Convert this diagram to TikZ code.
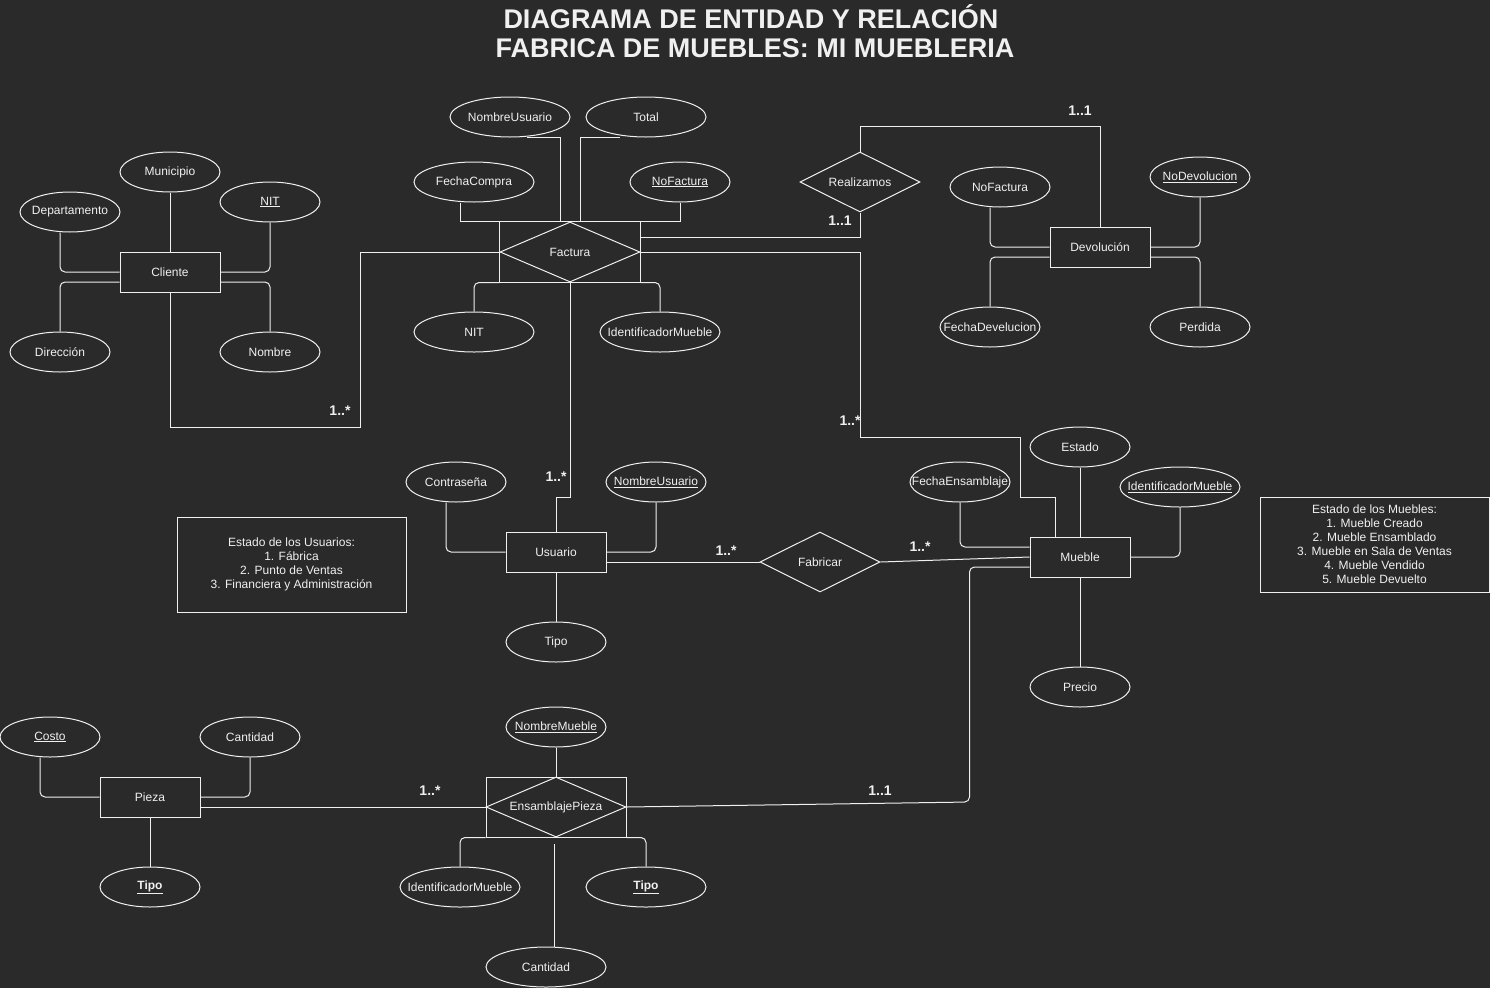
\documentclass[tikz,border=0pt]{standalone}
\usepackage{fontspec}
\setmainfont{Liberation Sans}
\usetikzlibrary{shapes.geometric}
\definecolor{bg}{HTML}{2A2A2A}
\definecolor{ink}{HTML}{F0F0F0}
\begin{document}
\begin{tikzpicture}[x=1pt,y=-1pt, color=ink, line width=1pt,
  every node/.style={text=ink, font=\fontsize{12}{14}\selectfont},
  txt/.style={inner sep=0pt, font=\fontsize{12}{14}\selectfont},
  attr/.style={ellipse, draw, minimum width=100pt, minimum height=40pt, inner sep=0pt,
    label={[txt]center:#1}},
  wattr/.style={attr=#1, minimum width=120pt},
  ent/.style={rectangle, draw, minimum width=100pt, minimum height=40pt, inner sep=0pt},
  rel/.style={diamond, draw, minimum width=120pt, minimum height=60pt, inner sep=0pt, shape aspect=2},
  wrel/.style={rel, minimum width=140pt},
  abox/.style={rectangle, minimum width=140pt, minimum height=60pt, inner sep=0pt},
  card/.style={font=\fontsize{14}{16}\selectfont\bfseries},
  note/.style={rectangle, draw, minimum width=229pt, minimum height=95pt, align=center, inner sep=0pt},
  soft/.style={rounded corners=5pt},
  title/.style={font=\fontsize{27}{31}\selectfont\bfseries}
]
% canvas
\fill[bg] (0,0) rectangle (1490,988);
\path[use as bounding box] (0,0) rectangle (1490,988);

% heading
\node[title] (t1) at (751,17) {DIAGRAMA DE ENTIDAD Y RELACIÓN};
\node[title] (t2) at (755,48) {FABRICA DE MUEBLES: MI MUEBLERIA};

% ---------- Cliente ----------
\node[ent] (cliente) at (170,272) {Cliente};
\node[attr=Municipio] (muni) at (170,172) {};
\node[attr=Departamento] (depto) at (70,212) {};
\node[attr=\underline{NIT}] (nitc) at (270,202) {};
\node[attr=Dirección] (dir) at (60,352) {};
\node[attr=Nombre] (nombre) at (270,352) {};
\draw (muni.south) -- (cliente.north);
\draw[soft] ([xshift=-10pt]depto.south) |- (cliente.west);
\draw[soft] (nitc.south) |- (cliente.east);
\draw[soft] (dir.north) |- ([yshift=-10pt]cliente.west);
\draw[soft] (nombre.north) |- ([yshift=-10pt]cliente.east);

% ---------- Factura ----------
\node[abox] (factbox) at (570,252) {};
\draw (factbox.north west) -- (factbox.south west);
\draw (factbox.north east) -- (factbox.south east);
\node[wrel] (factura) at (570,252) {Factura};
\node[wattr=NombreUsuario] (nuf) at (510,117) {};
\node[wattr=Total] (total) at (646,117) {};
\node[wattr=FechaCompra] (fc) at (474,182) {};
\node[attr=\underline{NoFactura}] (nf) at (680,182) {};
\node[wattr=NIT] (nitf) at (474,332) {};
\node[wattr=IdentificadorMueble] (idmf) at (660,332) {};
\draw ([xshift=17pt]nuf.south) -| ([xshift=-10pt]factbox.north);
\draw ([xshift=-26pt]total.south) -| ([xshift=10pt]factbox.north);
\draw ([xshift=-14pt]fc.south) |- (factbox.north west);
\draw (nf.south) |- (factbox.north east);
\draw (factbox.north west) -- (factbox.north east);
\draw[soft] (nitf.north) |- (factbox.south west);
\draw[soft] (idmf.north) |- (factbox.south east);
\draw (factbox.south west) -- (factbox.south east);

% ---------- Realizamos / Devolucion ----------
\node[rel] (realizamos) at (860,182) {Realizamos};
\node[ent] (devolucion) at (1100,247) {Devolución};
\node[attr=NoFactura] (nofd) at (1000,187) {};
\node[attr=\underline{NoDevolucion}] (nodev) at (1200,177) {};
\node[attr=FechaDevelucion] (fdev) at (990,327) {};
\node[attr=Perdida] (perdida) at (1200,327) {};
\draw[soft] ([xshift=-10pt]nofd.south) |- (devolucion.west);
\draw[soft] (nodev.south) |- (devolucion.east);
\draw[soft] (fdev.north) |- ([yshift=-10pt]devolucion.west);
\draw[soft] (perdida.north) |- ([yshift=-10pt]devolucion.east);
\draw ([yshift=15pt]factbox.east) -| (realizamos.south);
\draw (realizamos.north) -- ++(0,-25) -| (devolucion.north);
\node[card] (c1) at (840,221) {1..1};
\node[card] (c2) at (1080,111) {1..1};

% ---------- Usuario ----------
\node[ent] (usuario) at (556,552) {Usuario};
\node[attr=Contraseña] (contra) at (456,482) {};
\node[attr=\underline{NombreUsuario}] (nuu) at (656,482) {};
\node[attr=Tipo] (tipou) at (556,642) {};
\draw[soft] ([xshift=-10pt]contra.south) |- (usuario.west);
\draw[soft] (nuu.south) |- (usuario.east);
\draw (usuario.south) -- (tipou.north);

% ---------- Mueble ----------
\node[ent] (mueble) at (1080,557) {Mueble};
\node[attr=Estado] (estado) at (1080,447) {};
\node[attr=FechaEnsamblaje] (fens) at (960,482) {};
\node[wattr=\underline{IdentificadorMueble}] (idmm) at (1180,487) {};
\node[attr=Precio] (precio) at (1080,687) {};
\draw (estado.south) -- (mueble.north);
\draw[soft] (fens.south) |- ([yshift=10pt]mueble.west);
\draw[soft] (idmm.south) |- (mueble.east);
\draw (mueble.south) -- (precio.north);

% ---------- Fabricar ----------
\node[rel] (fabricar) at (820,562) {Fabricar};
\draw ([yshift=-10pt]usuario.east) -- (fabricar.west);
\draw (fabricar.east) -- (mueble.west);

% ---------- Pieza ----------
\node[ent] (pieza) at (150,797) {Pieza};
\node[attr=\underline{Costo}] (costo) at (50,737) {};
\node[attr=Cantidad] (cantp) at (250,737) {};
\node[attr=\textbf{\underline{Tipo}}] (tipop) at (150,887) {};
\draw[soft] ([xshift=-10pt]costo.south) |- (pieza.west);
\draw[soft] (cantp.south) |- (pieza.east);
\draw (pieza.south) -- (tipop.north);

% ---------- EnsamblajePieza ----------
\node[abox, draw] (ensbox) at (556,807) {};
\node[wrel] (ens) at (556,807) {EnsamblajePieza};
\node[attr=\underline{NombreMueble}] (nm) at (556,727) {};
\node[wattr=IdentificadorMueble] (idme) at (460,887) {};
\node[wattr=\textbf{\underline{Tipo}}] (tipoe) at (646,887) {};
\node[wattr=Cantidad] (cante) at (546,967) {};
\draw (nm.south) -- (ensbox.north);
\draw[soft] (idme.north) |- (ensbox.south west);
\draw[soft] (tipoe.north) |- (ensbox.south east);
\draw ([xshift=8pt]cante.north) -- ([xshift=-2pt,yshift=-6pt]ensbox.south);
\draw ([yshift=-10pt]pieza.east) -- (ens.west);
\draw[soft] ([yshift=-10pt]mueble.west) -- ++(-60,0) -- ++(0,235) -- (ens.east);

% ---------- relationships between Cliente, Factura, Usuario, Mueble ----------
\draw (cliente.south) -- ++(0,135) -- ++(190,0) |- (factura.west);
\draw (factura.south) -- ++(0,215) -| (usuario.north);
\draw (factura.east) -- ++(220,0) -- ++(0,185) -- ++(160,0) -- ++(0,60) -| ([xshift=-25pt]mueble.north);

% cardinalities
\node[card] (c3) at (340,411) {1..*};
\node[card] (c4) at (850,421) {1..*};
\node[card] (c5) at (556,477) {1..*};
\node[card] (c6) at (726,551) {1..*};
\node[card] (c7) at (920,547) {1..*};
\node[card] (c8) at (430,791) {1..*};
\node[card] (c9) at (880,791) {1..1};

% notes
\node[note] (nusr) at (291.5,564.5) {Estado de los Usuarios:\\1. Fábrica\\2. Punto de Ventas\\3. Financiera y Administración};
\node[note] (nmue) at (1374.5,544.5) {Estado de los Muebles:\\1. Mueble Creado\\2. Mueble Ensamblado\\3. Mueble en Sala de Ventas\\4. Mueble Vendido\\5. Mueble Devuelto};
\end{tikzpicture}
\end{document}
